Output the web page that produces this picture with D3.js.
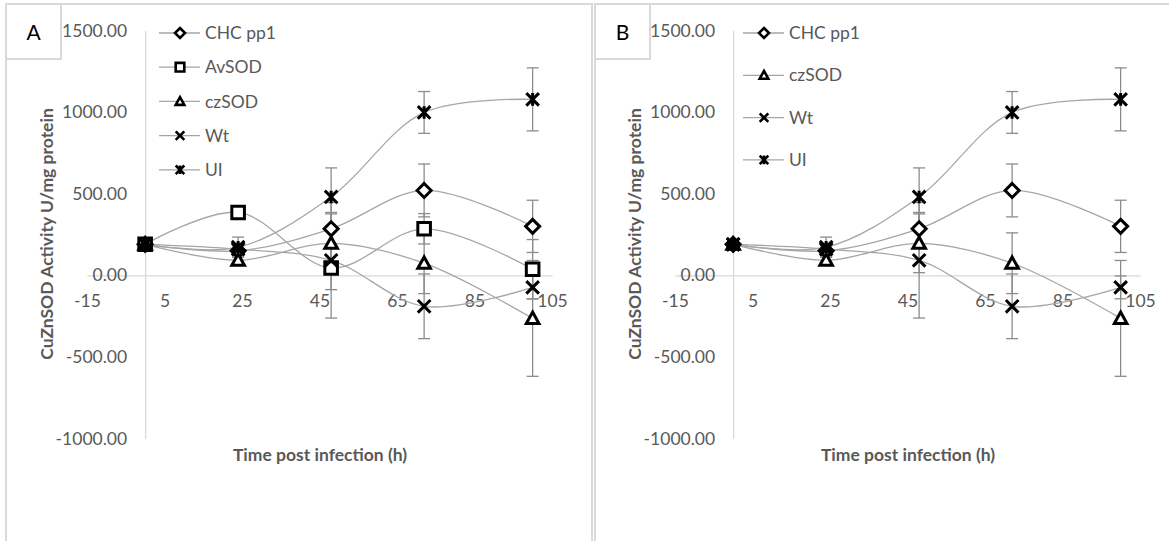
<!DOCTYPE html>
<html><head><meta charset="utf-8">
<script src="https://cdn.jsdelivr.net/npm/d3@7"></script>
<style>
body{margin:0;background:#fff;}
svg{display:block;font-family:Lato,"Open Sans",sans-serif;}
</style></head>
<body><svg id="c" width="1169" height="541"></svg>
<script>
// ---- data ----
const times = [0, 24, 48, 72, 100];
const xTicks = [-15, 5, 25, 45, 65, 85, 105];
const yTicks = [-1000, -500, 0, 500, 1000, 1500];

const chcValues   = [190, 150, 285, 520, 300];
const chcErrors   = [10, 30, 100, 162, 160];
const avsodValues = [190, 385, 45, 285, 37];
const avsodErrors = [10, 20, 133, 93, 182];
const czsodValues = [190, 92, 196, 74, -264];
const czsodErrors = [10, 20, 180, 186, 355];
const wtValues    = [190, 160, 92, -190, -74];
const wtErrors    = [10, 20, 354, 198, 70];
const uiValues    = [190, 172, 480, 998, 1078];
const uiErrors    = [10, 62, 178, 128, 193];

const seriesNames = ["CHC pp1", "AvSOD", "czSOD", "Wt", "UI"];
const seriesShapes = ["diamond", "square", "triangle", "x", "star"];
const panelLabels = ["A", "B"];
const yTitle = "CuZnSOD Activity U/mg protein";
const xTitle = "Time post infection (h)";

const allSeries = [
  {name: seriesNames[0], shape: seriesShapes[0], values: chcValues, errors: chcErrors},
  {name: seriesNames[1], shape: seriesShapes[1], values: avsodValues, errors: avsodErrors},
  {name: seriesNames[2], shape: seriesShapes[2], values: czsodValues, errors: czsodErrors},
  {name: seriesNames[3], shape: seriesShapes[3], values: wtValues, errors: wtErrors},
  {name: seriesNames[4], shape: seriesShapes[4], values: uiValues, errors: uiErrors}
];

const panels = [
  {label: panelLabels[0], series: allSeries, ox: 0, legendStep: 34.2, legendY: 33},
  {label: panelLabels[1], series: allSeries.filter(s => s.name !== "AvSOD"), ox: 588, legendStep: 42.3, legendY: 33}
];

const svg = d3.select("#c");
const grey = "#595959";
const loc = d3.formatLocale({decimal: ".", thousands: ",", grouping: [3], currency: ["", ""], minus: "-"});

function shapePath(shape, r) {
  switch (shape) {
    case "diamond": return `M0,${-r}L${r},0L0,${r}L${-r},0Z`;
    case "square": return `M${-r},${-r}H${r}V${r}H${-r}Z`;
    case "triangle": return `M0,${-r}L${r},${r*0.8}L${-r},${r*0.8}Z`;
    case "x": return `M${-r},${-r}L${r},${r}M${-r},${r}L${r},${-r}`;
    case "star": return `M${-r},${-r}L${r},${r}M${-r},${r}L${r},${-r}M0,${-r}L0,${r}`;
  }
}

const y = d3.scaleLinear().domain([-1000, 1500]).range([438.5, 30.5]);

panels.forEach((p, pi) => {
  const g = svg.append("g");
  const x = d3.scaleLinear().domain([-15, 105]).range([87 + p.ox, 552 + p.ox]);

  // panel frame
  if (pi === 0) {
    g.append("rect").attr("x", 6).attr("y", 4).attr("width", 586).attr("height", 560)
      .attr("fill", "none").attr("stroke", "#d9d9d9").attr("stroke-width", 2);
  } else {
    g.append("rect").attr("x", 595).attr("y", 4).attr("width", 600).attr("height", 560)
      .attr("fill", "none").attr("stroke", "#d9d9d9").attr("stroke-width", 2);
  }
  const bx = pi === 0 ? 6 : 595;
  g.append("rect").attr("x", bx).attr("y", 4).attr("width", 55).attr("height", 55)
    .attr("fill", "#fff").attr("stroke", "#d9d9d9").attr("stroke-width", 2);
  g.append("text").attr("x", bx + 27.5).attr("y", 33).attr("dy", "0.35em")
    .attr("text-anchor", "middle").attr("font-size", 21).attr("fill", "#000").text(p.label);

  // x axis (at y=0)
  const xa = g.append("g").attr("transform", `translate(0,${y(0)})`)
    .call(d3.axisBottom(x).tickValues(xTicks).tickSize(0).tickPadding(19).tickFormat(loc.format("d")));
  xa.select(".domain").attr("stroke", "#d9d9d9").attr("stroke-width", 1.3);
  xa.selectAll("text").attr("fill", grey).attr("font-size", 17.5).attr("font-family", "Lato");

  // y axis (at x=0)
  const ya = g.append("g").attr("transform", `translate(${x(0)},0)`)
    .call(d3.axisLeft(y).tickValues(yTicks).tickSize(0).tickPadding(18).tickFormat(loc.format(".2f")));
  ya.select(".domain").attr("stroke", "#d9d9d9").attr("stroke-width", 1.3);
  ya.selectAll("text").attr("fill", grey).attr("font-size", 17.5).attr("font-family", "Lato");

  // titles
  g.append("text").attr("x", 320 + p.ox).attr("y", 455).attr("dy", "0.35em")
    .attr("text-anchor", "middle").attr("font-weight", "bold").attr("font-size", 17.5)
    .attr("fill", grey).text(xTitle);
  g.append("text").attr("transform", `translate(${47 + p.ox},234) rotate(-90)`)
    .attr("dy", "0.35em").attr("text-anchor", "middle").attr("font-weight", "bold")
    .attr("font-size", 17.5).attr("fill", grey).text(yTitle);

  const line = d3.line().x((d, i) => x(times[i])).y(d => y(d)).curve(d3.curveCatmullRom.alpha(0.5));

  // lines
  p.series.forEach(s => {
    g.append("path").attr("d", line(s.values)).attr("fill", "none")
      .attr("stroke", "#a6a6a6").attr("stroke-width", 1.3);
  });
  // error bars
  p.series.forEach(s => {
    const eb = g.append("g").attr("stroke", "#8c8c8c").attr("stroke-width", 1.3);
    s.values.forEach((v, i) => {
      const cx = x(times[i]), e = s.errors[i];
      eb.append("line").attr("x1", cx).attr("x2", cx).attr("y1", y(v + e)).attr("y2", y(v - e));
      [v + e, v - e].forEach(t => eb.append("line").attr("x1", cx - 6).attr("x2", cx + 6)
        .attr("y1", y(t)).attr("y2", y(t)));
    });
  });
  // markers
  p.series.forEach(s => {
    s.values.forEach((v, i) => {
      g.append("path").attr("transform", `translate(${x(times[i])},${y(v)})`)
        .attr("d", shapePath(s.shape, s.shape === "diamond" ? 7 : 6.3))
        .attr("fill", "#fff").attr("stroke", "#000").attr("stroke-width", 3)
        .attr("stroke-linejoin", "miter");
    });
  });

  // legend
  const lx0 = pi === 0 ? 159 : 743;
  p.series.forEach((s, i) => {
    const ly = p.legendY + i * p.legendStep;
    const lg = g.append("g").attr("transform", `translate(${lx0},${ly})`);
    lg.append("rect").attr("x", -4).attr("y", -12).attr("width", 100).attr("height", 24).attr("fill", "#fff");
    lg.append("line").attr("x1", 0).attr("x2", 41).attr("stroke", "#a6a6a6").attr("stroke-width", 1.3);
    lg.append("path").attr("transform", "translate(21,0)")
      .attr("d", shapePath(s.shape, s.shape === "diamond" ? 5 : 4.3))
      .attr("fill", "#fff").attr("stroke", "#000").attr("stroke-width", 2.6);
    lg.append("text").attr("x", 46).attr("dy", "0.35em").attr("font-size", 17.5)
      .attr("fill", grey).text(s.name);
  });
});
</script></body></html>
